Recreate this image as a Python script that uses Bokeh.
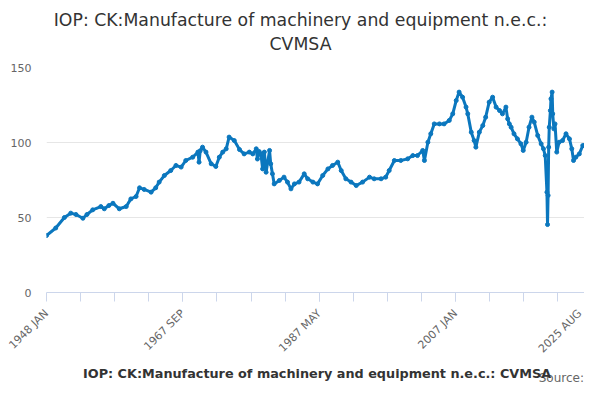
import math
from bokeh.plotting import figure
from bokeh.layouts import column
from bokeh.models import (Range1d, FixedTicker, Legend, LegendItem, Label,
                          ColumnDataSource)
from bokeh.embed import file_html
from bokeh.resources import INLINE

# ---- data (month, value) ----
dates = [
    "1948-01", "1949-05", "1950-08", "1951-07", "1952-04", "1953-04", "1953-11",
    "1954-09", "1955-11", "1956-05", "1957-01", "1957-08", "1958-07", "1959-07",
    "1960-03", "1960-12", "1961-06", "1962-02", "1963-02", "1963-10", "1964-04",
    "1965-01", "1965-12", "1966-09", "1967-06", "1968-02", "1969-02", "1969-11",
    "1970-01", "1970-03", "1970-07", "1971-01", "1971-10", "1972-06", "1972-12",
    "1973-06", "1973-12", "1974-05", "1975-02", "1975-11", "1976-07", "1977-04",
    "1977-10", "1978-04", "1978-06", "1978-09", "1978-12", "1979-03", "1979-06",
    "1979-09", "1980-03", "1980-05", "1980-08", "1980-11", "1981-08", "1982-04",
    "1982-10", "1983-04", "1983-10", "1984-06", "1985-03", "1985-09", "1986-06",
    "1987-02", "1987-11", "1988-08", "1989-04", "1990-01", "1990-07", "1991-03",
    "1991-12", "1992-09", "1993-08", "1994-08", "1995-04", "1996-04", "1996-12",
    "1997-06", "1998-03", "1999-02", "2000-02", "2000-11", "2001-07", "2002-04",
    "2002-07", "2003-01", "2003-06", "2003-12", "2004-09", "2005-05", "2006-02",
    "2006-08", "2007-02", "2007-07", "2008-01", "2008-07", "2008-10", "2009-04",
    "2009-09", "2009-12", "2010-06", "2010-12", "2011-05", "2011-11", "2012-05",
    "2012-11", "2013-05", "2013-10", "2014-04", "2014-07", "2014-10", "2015-01",
    "2015-06", "2015-12", "2016-06", "2016-10", "2017-03", "2017-08", "2018-01",
    "2018-05", "2018-11", "2019-05", "2019-09", "2019-12", "2020-03", "2020-04",
    "2020-05", "2020-06", "2020-07", "2020-09", "2020-10", "2020-12", "2021-01",
    "2021-03", "2021-05", "2021-08", "2021-12", "2022-06", "2022-12", "2023-06",
    "2023-10", "2024-01", "2024-05", "2024-11", "2025-05", "2025-08",
]
values = [
    38.0, 43.0, 50.0, 52.9, 52.0, 49.5, 52.0,
    55.1, 57.3, 55.8, 58.0, 59.5, 55.8, 57.3,
    62.4, 64.0, 69.8, 68.7, 66.9, 69.8, 73.6,
    78.0, 81.3, 84.7, 83.6, 88.0, 90.2, 93.6,
    86.9, 94.5, 96.9, 93.6, 85.8, 84.0, 90.2,
    93.6, 95.8, 103.6, 101.3, 95.3, 92.4, 93.6,
    92.4, 95.8, 89.0, 94.0, 92.4, 82.4, 93.6,
    80.2, 94.7, 85.8, 79.1, 72.4, 74.7, 76.9,
    73.6, 69.1, 72.4, 73.6, 79.1, 75.8, 73.6,
    72.4, 78.0, 82.4, 84.7, 86.9, 81.3, 75.8,
    73.6, 71.3, 73.6, 76.9, 75.8, 75.8, 76.9,
    81.3, 88.0, 88.0, 89.1, 91.3, 91.3, 94.7,
    88.0, 100.2, 105.8, 112.4, 112.4, 112.4, 114.7,
    119.1, 128.0, 133.6, 130.2, 123.6, 119.1, 106.9,
    101.3, 96.9, 106.9, 111.3, 116.9, 126.9, 130.2,
    123.6, 121.3, 119.1, 123.6, 115.8, 112.4, 110.2,
    105.8, 102.4, 99.1, 94.7, 100.2, 110.2, 116.9,
    113.6, 104.7, 99.1, 95.8, 91.3, 66.9, 45.3,
    64.7, 96.9, 110.2, 121.3, 129.1, 133.6, 119.1,
    109.1, 112.4, 93.6, 100.2, 101.3, 105.8, 102.4,
    95.8, 88.0, 90.2, 92.4, 98.0, 98.0,
]
tick_labels = {0: "1948 JAN", 236: "1967 SEP", 472: "1987 MAY",
               708: "2007 JAN", 931: "2025 AUG"}
y_ticks = [0, 50, 100, 150]
series_name = "IOP: CK:Manufacture of machinery and equipment n.e.c.: CVMSA"
title_lines = ["IOP: CK:Manufacture of machinery and equipment n.e.c.:", "CVMSA"]
source_text = "Source:"

def month_index(d):
    y, m = d.split("-")
    return (int(y) - 1948) * 12 + int(m) - 1

xs = [month_index(d) for d in dates]
src = ColumnDataSource(dict(x=xs, y=values))

BLUE = "#0b77be"
FONT = "DejaVu Sans"


def strip(h):
    # the column aligns this strip's frame with the chart frame (x 46..584),
    # so the x range is set to those pixel positions
    f = figure(width=584, height=h, output_backend="svg", toolbar_location=None,
               x_range=Range1d(46, 584), y_range=Range1d(0, h),
               min_border=0, x_axis_type=None, y_axis_type=None)
    f.outline_line_color = None
    f.grid.visible = False
    f.background_fill_color = "white"
    f.border_fill_color = "white"
    return f

# ---- title strip ----
hd = strip(55)
for text, ypos in zip(title_lines, [36, 12]):
    hd.add_layout(Label(x=300, y=ypos, text=text, text_align="center",
                        text_baseline="middle", text_font=FONT,
                        text_font_size="17.3px", text_color="#333333"))

# ---- main chart ----
p = figure(width=584, height=309, output_backend="svg", toolbar_location=None,
           x_range=Range1d(0, 931), y_range=Range1d(0, 150),
           min_border_left=46, min_border_right=0, min_border_top=12,
           min_border_bottom=72)
p.outline_line_color = None
p.background_fill_color = "white"
p.border_fill_color = "white"

p.line("x", "y", source=src, line_color=BLUE, line_width=3)
p.scatter("x", "y", source=src, size=4, fill_color=BLUE, line_color=BLUE)

xa = p.xaxis[0]
xa.ticker = FixedTicker(ticks=list(tick_labels.keys()),
                        minor_ticks=[59 * k for k in range(1, 16)])
xa.major_label_overrides = {k: v for k, v in tick_labels.items()}
xa.major_label_orientation = math.pi / 4
xa.axis_line_color = "#ccd6eb"
xa.major_tick_line_color = "#ccd6eb"
xa.minor_tick_line_color = "#ccd6eb"
xa.major_tick_in = 0
xa.major_tick_out = 9
xa.minor_tick_in = 0
xa.minor_tick_out = 9
xa.major_label_text_font = FONT
xa.major_label_text_font_size = "11px"
xa.major_label_text_color = "#666666"
xa.major_label_standoff = 10

ya = p.yaxis[0]
ya.ticker = FixedTicker(ticks=y_ticks)
ya.axis_line_color = None
ya.major_tick_line_color = None
ya.minor_tick_line_color = None
ya.major_tick_out = 0
ya.major_label_standoff = 15
ya.major_label_text_font = FONT
ya.major_label_text_font_size = "11px"
ya.major_label_text_color = "#666666"

p.xgrid.grid_line_color = None
p.ygrid.grid_line_color = "#e6e6e6"

# ---- legend / source strip ----
lg = strip(20)
ln2 = lg.line(x=[], y=[], line_color=BLUE, line_width=2)
pt2 = lg.scatter(x=[], y=[], size=4, fill_color=BLUE, line_color=BLUE)
legend = Legend(items=[LegendItem(label=series_name, renderers=[ln2, pt2])],
                location=(16, 3), orientation="horizontal",
                label_text_font=FONT, label_text_font_size="12.8px",
                label_text_font_style="bold", label_text_color="#333333",
                glyph_width=16, glyph_height=16, label_height=16,
                label_standoff=5, padding=0, margin=0,
                background_fill_alpha=0, border_line_color=None)
lg.add_layout(legend, "center")
lg.add_layout(Label(x=583.5, y=0, text=source_text, text_align="right",
                    text_baseline="bottom", text_font=FONT,
                    text_font_size="12px", text_color="#666666"))

layout = column(hd, p, lg, spacing=0)
open("out.html", "w").write(file_html(layout, INLINE))
